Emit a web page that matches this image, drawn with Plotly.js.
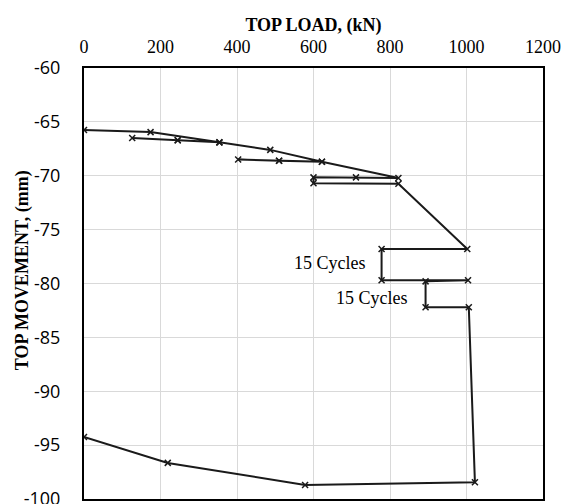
<!DOCTYPE html>
<html>
<head>
<meta charset="utf-8">
<script src="https://cdn.plot.ly/plotly-3.0.1.min.js"></script>
<style>html,body{margin:0;padding:0;background:#fff;}#chart{width:564px;height:504px;}</style>
</head>
<body>
<div id="chart"></div>
<script>
// Load path (kN) and top movement (mm), in loading order
const loadKN = [0, 174, 354, 245, 126, 245, 354, 487, 622, 510, 403, 510, 622, 822, 711, 600, 600, 822, 1002, 778, 778, 1004, 893, 893, 1006, 1022, 578, 219, 0];
const movementMM = [-65.75, -65.95, -66.9, -66.7, -66.5, -66.7, -66.9, -67.6, -68.7, -68.6, -68.5, -68.6, -68.7, -70.2, -70.15, -70.15, -70.7, -70.75, -76.8, -76.8, -79.7, -79.7, -79.8, -82.2, -82.2, -98.45, -98.7, -96.65, -94.25];
const xTicks = [0, 200, 400, 600, 800, 1000, 1200];
const yTicks = [-60, -65, -70, -75, -80, -85, -90, -95, -100];
const noteText = ["15 Cycles", "15 Cycles"];
const noteX = [742, 852];
const noteY = [-78.1, -81.3];
const xTitle = "TOP LOAD, (kN)";
const yTitle = "TOP MOVEMENT, (mm)";

const serif = "Liberation Serif, Times New Roman, serif";
const sans = "Open Sans, Noto Sans, sans-serif";

const trace = {
  x: loadKN, y: movementMM, type: "scatter", mode: "lines+markers",
  line: {color: "#1a1a1a", width: 2},
  marker: {symbol: "x-thin", size: 6, line: {color: "#1a1a1a", width: 1.5}, color: "#1a1a1a"},
  hoverinfo: "skip", showlegend: false
};

const notes = noteText.map((t, i) => ({
  x: noteX[i], y: noteY[i], xref: "x", yref: "y", text: t, showarrow: false,
  xanchor: "right", yanchor: "middle", font: {family: serif, size: 18, color: "#000"}
}));
notes.push({
  x: 0, y: 0.531, xref: "paper", yref: "paper", xshift: -62, text: "<b>" + yTitle + "</b>",
  showarrow: false, textangle: -90, xanchor: "center", yanchor: "middle",
  font: {family: serif, size: 18, color: "#000"}
});

const layout = {
  width: 564, height: 504,
  margin: {l: 84, r: 21, t: 68, b: 5},
  paper_bgcolor: "#fff", plot_bgcolor: "#fff",
  showlegend: false,
  xaxis: {
    side: "top", range: [0, 1200], tickvals: xTicks, ticktext: xTicks.map(String),
    showgrid: true, gridcolor: "#d9d9d9", gridwidth: 1, zeroline: false,
    showline: true, mirror: true, linecolor: "#000", linewidth: 2,
    ticks: "", ticklabelstandoff: 6,
    tickfont: {family: serif, size: 18, color: "#000"},
    title: {text: "<b>" + xTitle + "</b>", font: {family: serif, size: 18, color: "#000"}, standoff: 0}
  },
  yaxis: {
    range: [-100, -60], tickvals: yTicks, ticktext: yTicks.map(String),
    showgrid: true, gridcolor: "#d9d9d9", gridwidth: 1, zeroline: false,
    showline: true, mirror: true, linecolor: "#000", linewidth: 2,
    ticks: "", ticklabelstandoff: 18, ticklabeloverflow: "allow",
    tickfont: {family: sans, size: 18, color: "#000"}
  },
  annotations: notes
};

Plotly.newPlot("chart", [trace], layout, {displayModeBar: false, staticPlot: true});
</script>
</body>
</html>
